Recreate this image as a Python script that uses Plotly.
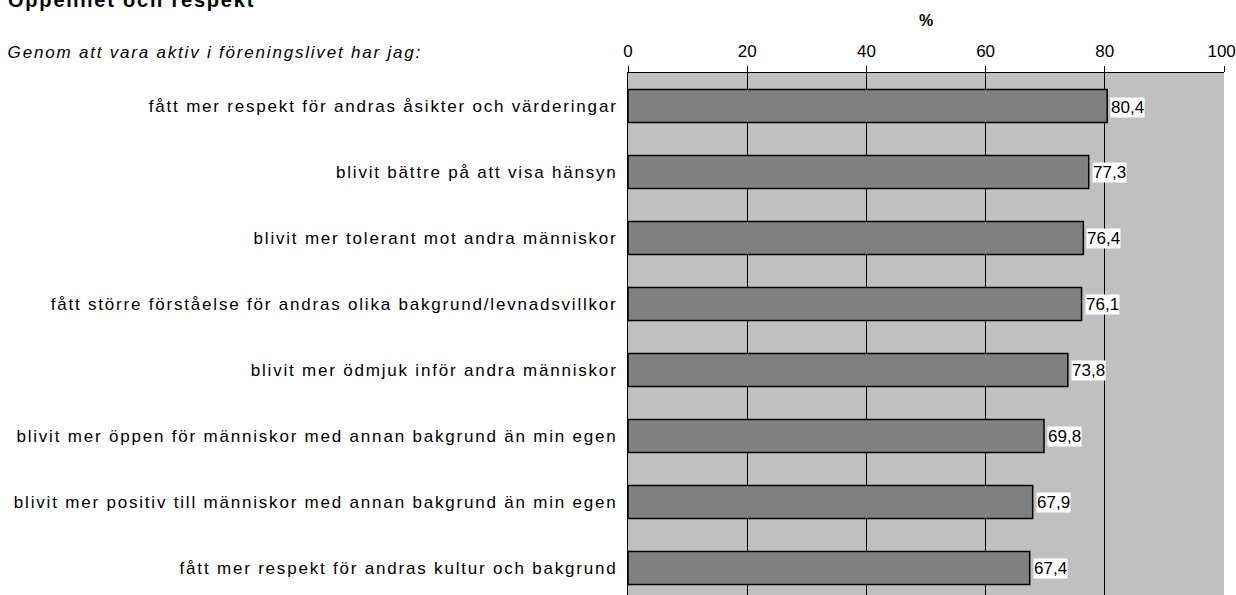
import plotly.graph_objects as go

categories = [
    "fått mer respekt för andras åsikter och värderingar",
    "blivit bättre på att visa hänsyn",
    "blivit mer tolerant mot andra människor",
    "fått större förståelse för andras olika bakgrund/levnadsvillkor",
    "blivit mer ödmjuk inför andra människor",
    "blivit mer öppen för människor med annan bakgrund än min egen",
    "blivit mer positiv till människor med annan bakgrund än min egen",
    "fått mer respekt för andras kultur och bakgrund",
]
values = [80.4, 77.3, 76.4, 76.1, 73.8, 69.8, 67.9, 67.4]
value_labels = ["80,4", "77,3", "76,4", "76,1", "73,8", "69,8", "67,9", "67,4"]
tick_vals = [0, 20, 40, 60, 80, 100]
tick_text = ["0", "20", "40", "60", "80", "100\u00a0"]

title_text = "Öppenhet och respekt"
subtitle_text = "Genom att vara aktiv i föreningslivet har jag:"

FONT = "Liberation Sans, Arial, sans-serif"
H_PLOT = 522.0
TOP = 73.0
LS = 1.8  # letter spacing in px applied to word texts


def py(px):
    # paper y coordinate for a pixel row above the plot area
    return 1 + (TOP - px) / H_PLOT


fig = go.Figure()
fig.add_trace(go.Bar(
    y=categories, x=values, orientation="h",
    marker=dict(color="#808080", line=dict(color="black", width=1.5)),
    width=0.5, hoverinfo="skip",
))

for c, v, t in zip(categories, values, value_labels):
    fig.add_annotation(x=v, y=c, xref="x", yref="y", text=t, showarrow=False,
                       xanchor="left", xshift=3, yshift=-1, bgcolor="white",
                       font=dict(family=FONT, size=17, color="black"), borderpad=0)

fig.add_annotation(x=0, xref="paper", xshift=-622 + len(title_text) * LS / 2, y=py(0.0), yref="paper",
                   text="<b>" + title_text + "</b>", showarrow=False,
                   xanchor="left", yanchor="middle",
                   font=dict(family=FONT, size=20, color="black"))
fig.add_annotation(x=0, xref="paper", xshift=-622 + len(subtitle_text) * LS / 2, y=py(52), yref="paper",
                   text="<i>" + subtitle_text + "</i>", showarrow=False,
                   xanchor="left", yanchor="middle",
                   font=dict(family=FONT, size=17, color="black"))
fig.add_annotation(x=0.5, xref="paper", y=py(20), yref="paper",
                   text="<b>%</b>", showarrow=False,
                   xanchor="center", yanchor="middle",
                   font=dict(family=FONT, size=16, color="black"))

fig.update_layout(
    width=1236, height=595,
    margin=dict(l=628, r=12, t=73, b=0, autoexpand=False),
    paper_bgcolor="white", plot_bgcolor="#C0C0C0",
    showlegend=False,
    font=dict(family=FONT, size=17, color="black"),
    xaxis=dict(side="top", range=[0, 100], tickvals=tick_vals, ticktext=tick_text,
               showgrid=True, gridcolor="black", gridwidth=1,
               showline=True, linecolor="black", linewidth=1,
               ticks="outside", ticklen=6, tickcolor="black",
               tickfont=dict(family=FONT, size=17),
               ticklabelstandoff=2, ticklabeloverflow="allow",
               automargin=False,
               zeroline=False, fixedrange=True),
    yaxis=dict(categoryorder="array", categoryarray=categories,
               autorange=False, range=[7.41, -0.5],
               showline=True, linecolor="black", linewidth=1,
               ticks="", tickfont=dict(family=FONT, size=17),
               ticklabelstandoff=6, showgrid=False, automargin=False,
               fixedrange=True),
)

post = """
document.body.style.margin = '0';
document.querySelectorAll('svg text').forEach(function (t) {
  if (/[A-Za-zÅÄÖåäö]/.test(t.textContent)) { t.style.letterSpacing = '%spx'; }
});
""" % LS

fig.write_html("out.html", post_script=post, config={"displayModeBar": False})
